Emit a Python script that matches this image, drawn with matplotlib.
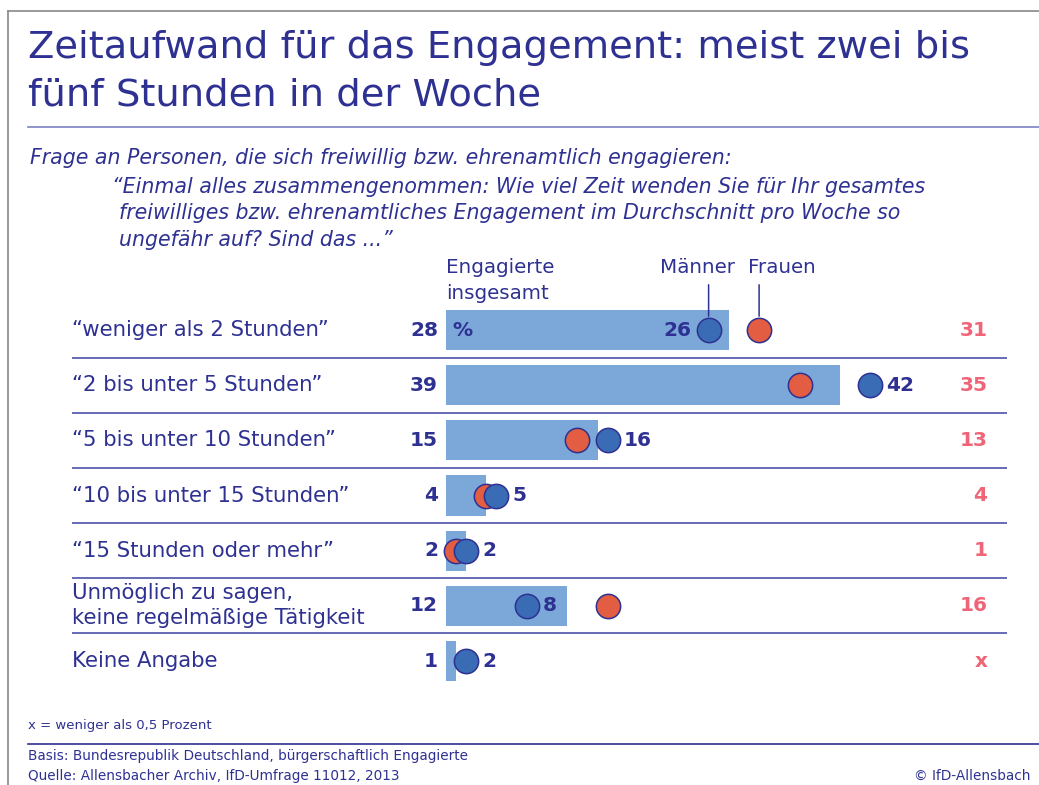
import matplotlib
matplotlib.use("Agg")
import matplotlib.pyplot as plt
from matplotlib.lines import Line2D

# data
kategorien = ["\u201cweniger als 2 Stunden\u201d", "\u201c2 bis unter 5 Stunden\u201d",
              "\u201c5 bis unter 10 Stunden\u201d", "\u201c10 bis unter 15 Stunden\u201d",
              "\u201c15 Stunden oder mehr\u201d",
              "Unm\u00f6glich zu sagen,\nkeine regelm\u00e4\u00dfige T\u00e4tigkeit",
              "Keine Angabe"]
insgesamt = [28, 39, 15, 4, 2, 12, 1]
maenner = [26, 42, 16, 5, 2, 8, 2]
frauen = [31, 35, 13, 4, 1, 16, None]
frauen_text = ["31", "35", "13", "4", "1", "16", "x"]
maenner_links = [True, False, False, False, False, False, False]

navy = "#2e3192"
bar_col = "#7ba7d9"
blue = "#3a6cb5"
red = "#e25d41"
pink = "#ef6577"
line_col = "#5a5fb0"

W, H = 1039, 785
plt.rcParams["font.family"] = ["DejaVu Sans"]
fig = plt.figure(figsize=(W / 100, H / 100), dpi=100)


def fx(px):
    return px / W


def fy(py):
    return 1 - py / H


# border
fig.add_artist(Line2D([fx(8), fx(8)], [fy(11), 0], color="#888888", lw=1.2))
fig.add_artist(Line2D([fx(8), 1], [fy(11), fy(11)], color="#888888", lw=1.2))

# title
fig.text(fx(28), fy(48), "Zeitaufwand f\u00fcr das Engagement: meist zwei bis",
         fontsize=27.7, color=navy, va="center", ha="left")
fig.text(fx(28), fy(96), "f\u00fcnf Stunden in der Woche",
         fontsize=27.7, color=navy, va="center", ha="left")
fig.add_artist(Line2D([fx(28), 1], [fy(127), fy(127)], color="#7c80c4", lw=1.2))

# question
qs = 14.8
fig.text(fx(30), fy(158), "Frage an Personen, die sich freiwillig bzw. ehrenamtlich engagieren:",
         fontsize=qs, style="italic", color=navy, va="center")
fig.text(fx(112), fy(187), "\u201cEinmal alles zusammengenommen: Wie viel Zeit wenden Sie f\u00fcr Ihr gesamtes",
         fontsize=qs, style="italic", color=navy, va="center")
fig.text(fx(119), fy(213), "freiwilliges bzw. ehrenamtliches Engagement im Durchschnitt pro Woche so",
         fontsize=qs, style="italic", color=navy, va="center")
fig.text(fx(119), fy(240), "ungef\u00e4hr auf? Sind das ...\u201d",
         fontsize=qs, style="italic", color=navy, va="center")

# chart axes: x in percent, 10.1 px per percent, zero at px 446
px_per = 10.1
x0, x1 = 72, 1007
row_top, row_step = 330, 55.17
ax = fig.add_axes([fx(x0), fy(row_top + 6.5 * row_step), fx(x1 - x0),
                   7 * row_step / H])
ax.set_xlim(-(446 - x0) / px_per, (x1 - 446) / px_per)
ax.set_ylim(6.5, -0.5)
ax.axis("off")

n = len(kategorien)
fs = 15.3
ax.barh(range(n), insgesamt, height=0.73, color=bar_col, left=0, zorder=1)
for i in range(n - 1):
    ax.axhline(i + 0.5, color=line_col, lw=1.3)

for i in range(n):
    ax.text(ax.get_xlim()[0], i, kategorien[i], fontsize=fs, color=navy,
            va="center", ha="left", linespacing=1.3)
    ax.text(-0.8, i, str(insgesamt[i]), fontsize=14.5, color=navy, weight="bold",
            va="center", ha="right")
    ax.text(53.6, i, frauen_text[i], fontsize=14.5, color=pink, weight="bold",
            va="center", ha="right")
    if frauen[i] is not None:
        ax.plot(frauen[i], i, "o", ms=17.5, mfc=red, mec=navy, mew=1.1, zorder=3)
    ax.plot(maenner[i], i, "o", ms=17.5, mfc=blue, mec=navy, mew=1.1, zorder=4)
    if maenner_links[i]:
        ax.text(maenner[i] - 1.7, i, str(maenner[i]), fontsize=14.5, color=navy,
                weight="bold", va="center", ha="right")
    else:
        ax.text(maenner[i] + 1.6, i, str(maenner[i]), fontsize=14.5, color=navy,
                weight="bold", va="center", ha="left")

ax.text(0.6, 0, "%", fontsize=14.5, color=navy, weight="bold", va="center", ha="left")

# header labels
hs = 14.3
fig.text(fx(446), fy(268), "Engagierte", fontsize=hs, color=navy, va="center")
fig.text(fx(446), fy(294), "insgesamt", fontsize=hs, color=navy, va="center")
fig.text(fx(697), fy(268), "M\u00e4nner", fontsize=hs, color=navy, va="center", ha="center")
fig.text(fx(782), fy(268), "Frauen", fontsize=hs, color=navy, va="center", ha="center")
ax.annotate("", xy=(maenner[0], -0.2), xytext=(maenner[0], -0.87),
            arrowprops=dict(arrowstyle="-", color=navy, lw=1.1), annotation_clip=False)
ax.annotate("", xy=(frauen[0], -0.2), xytext=(frauen[0], -0.87),
            arrowprops=dict(arrowstyle="-", color=navy, lw=1.1), annotation_clip=False)

# footer
fig.text(fx(28), fy(726), "x = weniger als 0,5 Prozent", fontsize=9.5, color=navy, va="center")
fig.add_artist(Line2D([fx(28), 1], [fy(744), fy(744)], color=navy, lw=1.2))
fig.text(fx(28), fy(756), "Basis: Bundesrepublik Deutschland, b\u00fcrgerschaftlich Engagierte",
         fontsize=9.8, color=navy, va="center")
fig.text(fx(28), fy(776), "Quelle: Allensbacher Archiv, IfD-Umfrage 11012, 2013",
         fontsize=9.8, color=navy, va="center")
fig.text(fx(1031), fy(776), "\u00a9 IfD-Allensbach", fontsize=9.8, color=navy,
         va="center", ha="right")

fig.savefig("out.png", dpi=100)
